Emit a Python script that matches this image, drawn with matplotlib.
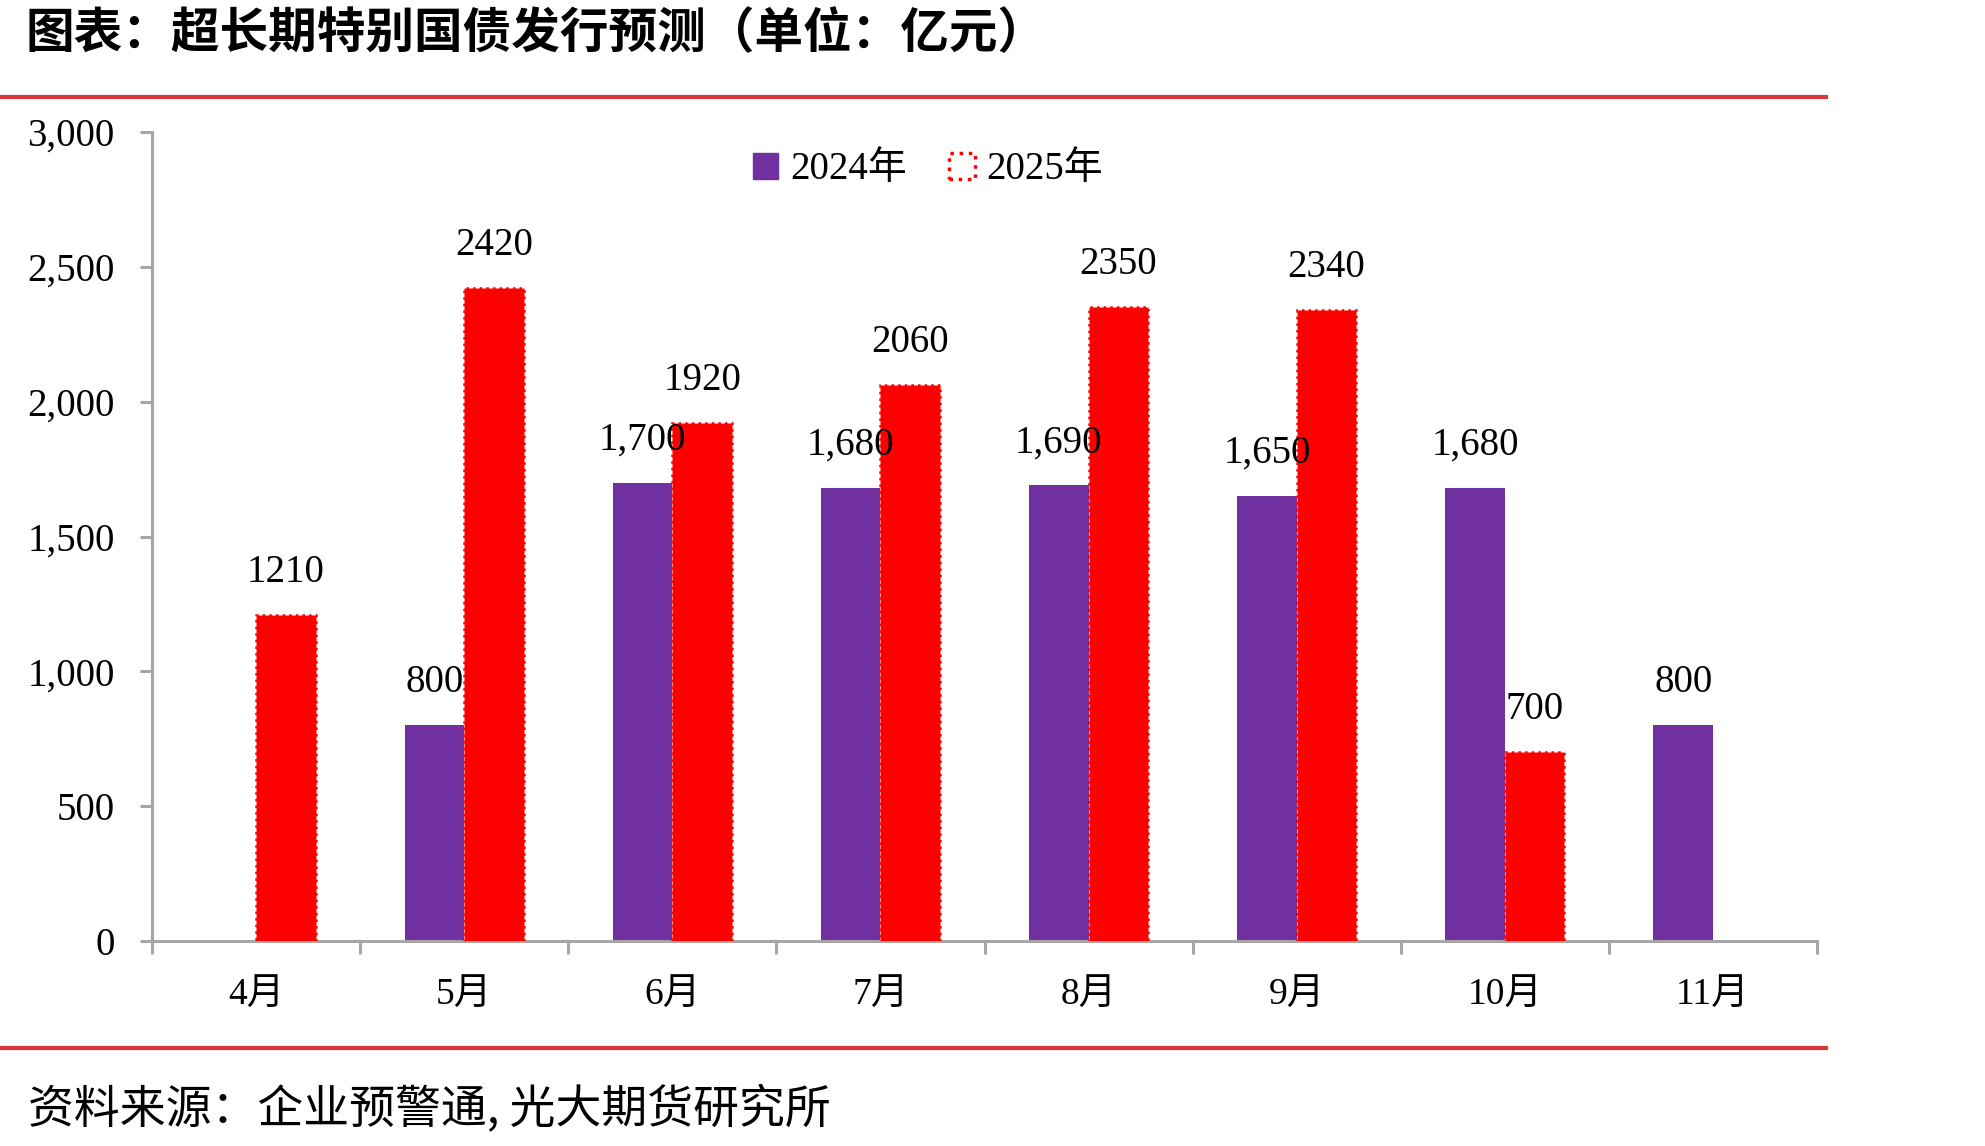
import numpy as np
import matplotlib

matplotlib.use("Agg")
import matplotlib.pyplot as plt
from matplotlib.lines import Line2D
from matplotlib.patches import Patch

# ── data ───────────────────────────────────────────────
months = ["4月", "5月", "6月", "7月", "8月", "9月", "10月", "11月"]
issue_2024 = [np.nan, 800, 1700, 1680, 1690, 1650, 1680, 800]
issue_2025 = [1210, 2420, 1920, 2060, 2350, 2340, 700, np.nan]

PURPLE = "#7030A0"
RED = "#FF0000"
RULE = "#D9363E"
GREY = "#A6A6A6"
NUM_FONT = ["Liberation Serif", "Noto Sans CJK SC"]
CJK_FONT = ["Noto Sans CJK SC", "DejaVu Sans"]

plt.rcParams["font.family"] = NUM_FONT

fig = plt.figure(figsize=(19.85, 11.46), dpi=100)
ax = fig.add_axes([152 / 1985, 1 - 941 / 1146, (1817 - 152) / 1985, (941 - 132) / 1146])

x = np.arange(len(months))
w = 0.286
ax.bar(x - w / 2, issue_2024, w, color=PURPLE, zorder=2, label="2024年")
ax.bar(x + w / 2, issue_2025, w, color=RED, edgecolor=RED, linestyle=":",
       linewidth=1.8, zorder=3, label="2025年")

# value labels
for xi, v in zip(x, issue_2024):
    if not np.isnan(v):
        ax.annotate(f"{int(v):,}", (xi - w / 2, v), xytext=(0, 33), textcoords="offset pixels",
                    ha="center", va="baseline", fontsize=28, zorder=5)
for xi, v in zip(x, issue_2025):
    if not np.isnan(v):
        ax.annotate(f"{int(v)}", (xi + w / 2, v), xytext=(0, 33), textcoords="offset pixels",
                    ha="center", va="baseline", fontsize=28, zorder=5)

ax.set_xlim(-0.5, len(months) - 0.5)
ax.set_ylim(0, 3000)
ax.set_yticks(np.arange(0, 3001, 500))
ax.set_yticklabels([f"{t:,}" for t in range(0, 3001, 500)], fontsize=28)

# category boundaries as ticks, labels in the middle
ax.set_xticks(np.arange(-0.5, len(months), 1.0))
ax.set_xticklabels([])
ax.set_xticks(x, minor=True)
ax.set_xticklabels(months, minor=True, fontsize=27, family=NUM_FONT)
ax.tick_params(axis="x", which="minor", length=0, pad=27)
ax.tick_params(axis="x", which="major", length=9, width=2.2, color=GREY, direction="out")
ax.tick_params(axis="y", length=9, width=2.2, color=GREY, direction="out", pad=18)

for side in ["top", "right"]:
    ax.spines[side].set_visible(False)
for side in ["left", "bottom"]:
    ax.spines[side].set_color(GREY)
    ax.spines[side].set_linewidth(2.2)

handles = [Patch(facecolor=PURPLE, edgecolor=PURPLE),
           Patch(facecolor="white", edgecolor=RED, linestyle=":", linewidth=2.5)]
fig.legend(handles, ["2024年", "2025年"], loc="center", bbox_to_anchor=(928 / 1985, 1 - 170 / 1146),
           ncol=2, frameon=False, fontsize=28, handlelength=0.65, handleheight=0.65,
           handletextpad=0.3, columnspacing=1.1)

# title, rules, source
fig.text(25 / 1985, 1 - 34 / 1146, "图表：超长期特别国债发行预测（单位：亿元）", ha="left", va="center",
         fontsize=35, fontweight="bold", family=CJK_FONT)
fig.add_artist(Line2D([0, 1826 / 1985], [1 - 97 / 1146] * 2, color=RULE, lw=3))
fig.add_artist(Line2D([0, 1826 / 1985], [1 - 1048 / 1146] * 2, color=RULE, lw=3))
fig.text(28 / 1985, 1 - 1110 / 1146, "资料来源：企业预警通, 光大期货研究所", ha="left", va="center",
         fontsize=33, style="italic", family=CJK_FONT)

fig.savefig("out.png", dpi=100)
